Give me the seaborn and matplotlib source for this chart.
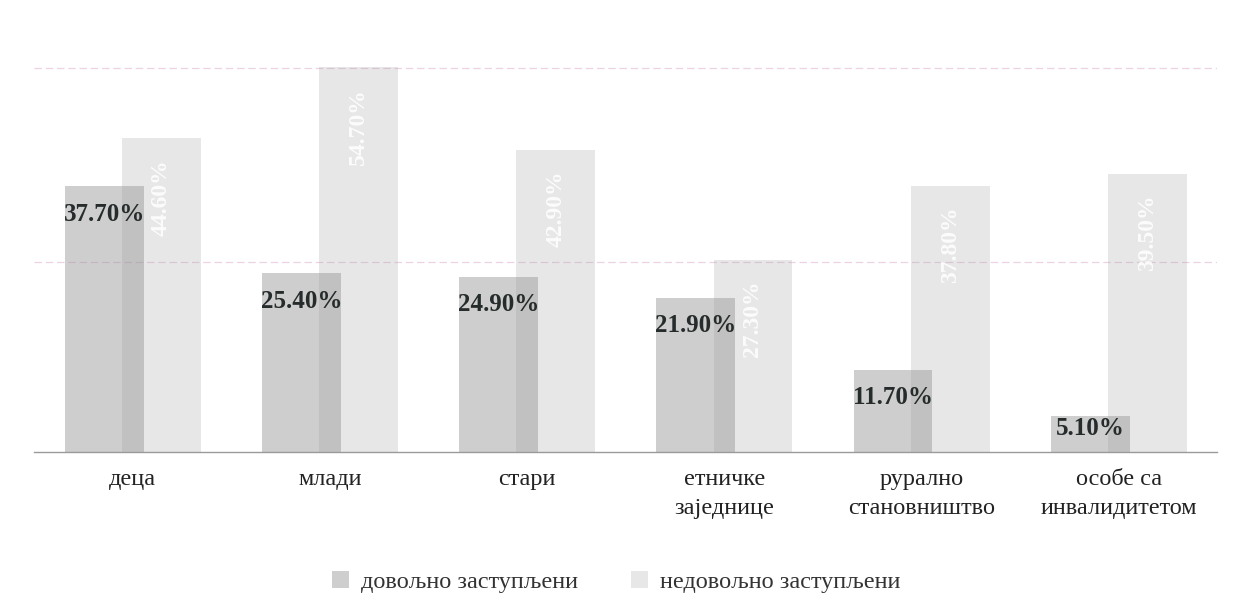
import pandas as pd
import matplotlib.pyplot as plt
import seaborn as sns
from matplotlib.patches import Patch

# Data
categories = ['деца', 'млади', 'стари', 'етничке\nзаједнице',
              'рурално\nстановништво', 'особе са\nинвалидитетом']
series = ['довољно заступљени', 'недовољно заступљени']
enough = [37.7, 25.4, 24.9, 21.9, 11.7, 5.1]
not_enough = [44.6, 54.7, 42.9, 27.3, 37.8, 39.5]

df = pd.DataFrame({
    'group': categories * 2,
    'series': [series[0]] * len(categories) + [series[1]] * len(categories),
    'value': enough + not_enough,
})

sns.set_theme(style='white')
plt.rcParams['font.family'] = ['Liberation Serif', 'DejaVu Serif']

fig = plt.figure(figsize=(12.4, 6.04), dpi=100)
ax = fig.add_axes([0.0277, 0.2517, 0.954, 0.70])

colors = ['#8c8c8c', '#969696']
alphas = [0.42, 0.22]

sns.barplot(data=df, x='group', y='value', hue='series', order=categories,
            hue_order=series, palette=colors, width=0.58, gap=-0.38,
            legend=False, ax=ax)

n = len(categories)
for i, patch in enumerate(ax.patches):
    patch.set_alpha(alphas[0] if i < n else alphas[1])
    patch.set_edgecolor('none')

# faint lines left by the scanner
for y in [27.0, 54.5]:
    ax.axhline(y, color='#ecd2e4', lw=0.9, ls=(0, (6, 3)), zorder=0)

left_bars = ax.patches[:n]
right_bars = ax.patches[n:2 * n]

for bar, v in zip(left_bars, enough):
    cx = bar.get_x() + bar.get_width() / 2
    ty = v - 4.0 if v > 8 else 3.4
    ax.text(cx, ty, f'{v:.2f}%', ha='center', va='center',
            fontsize=18, fontweight='bold', color='#262b2b')

for bar, v in zip(right_bars, not_enough):
    cx = bar.get_x() + bar.get_width() / 2
    ax.text(cx, v - 3.0, f'{v:.2f}%', ha='center', va='top', rotation=90,
            fontsize=17, fontweight='bold', color='white', alpha=0.85)

ax.set_ylim(0, 60)
ax.set_xlim(-0.5, n - 0.5)
ax.set_xlabel('')
ax.set_ylabel('')
ax.set_yticks([])
ax.tick_params(axis='x', length=0, pad=12, labelsize=17.5, colors='#222222')
for lab in ax.get_xticklabels():
    lab.set_linespacing(1.55)
for s in ['top', 'right', 'left']:
    ax.spines[s].set_visible(False)
ax.spines['bottom'].set_color('#9a9a9a')
ax.spines['bottom'].set_linewidth(1.0)

handles = [Patch(facecolor=c, alpha=a, edgecolor='none') for c, a in zip(colors, alphas)]
fig.legend(handles, series, loc='center', bbox_to_anchor=(0.497, 0.036), ncol=2,
           frameon=False, fontsize=17.5, handlelength=0.7, handleheight=0.7,
           columnspacing=2.2, handletextpad=0.5, labelcolor='#333333')

fig.savefig('out.png', dpi=100, facecolor='white')
